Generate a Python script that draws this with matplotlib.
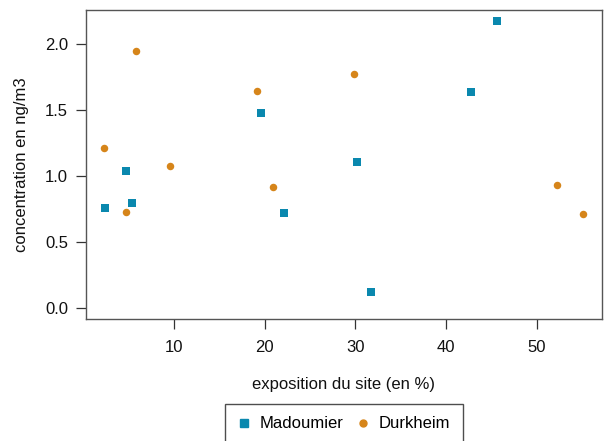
import matplotlib
matplotlib.use("Agg")
import matplotlib.pyplot as plt
from matplotlib.lines import Line2D

plt.rcParams['font.family'] = ['Liberation Sans', 'DejaVu Sans']

mad_x = [2.37, 4.70, 5.33, 19.55, 22.14, 30.2, 31.68, 42.8, 45.64]
mad_y = [0.755, 1.036, 0.796, 1.476, 0.715, 1.107, 0.116, 1.638, 2.176]
dur_x = [2.32, 4.70, 5.76, 9.54, 19.16, 20.90, 29.9, 52.2, 55.06]
dur_y = [1.208, 0.725, 1.946, 1.077, 1.645, 0.912, 1.774, 0.927, 0.713]
series_names = ["Madoumier", "Durkheim"]
xticks = [10, 20, 30, 40, 50]
yticks = [0.0, 0.5, 1.0, 1.5, 2.0]

blue = "#0a88ae"
orange = "#d6851a"

W, H = 604, 441
fig = plt.figure(figsize=(W/100, H/100), dpi=100)
ax = fig.add_axes([86/W, 1-319/H, (602-86)/W, (319-10)/H])

ax.scatter(mad_x, mad_y, marker='s', s=5.8**2, color=blue, linewidths=0, zorder=3)
ax.scatter(dur_x, dur_y, marker='o', s=5.4**2, color=orange, linewidths=0, zorder=3)

ax.set_xlim(0.30, 57.2)
ax.set_ylim(-0.087, 2.258)
ax.set_xticks(xticks)
ax.set_xticklabels([str(t) for t in xticks])
ax.set_yticks(yticks)
ax.set_yticklabels([f"{t:.1f}" for t in yticks])

for s in ax.spines.values():
    s.set_color("#555555")
    s.set_linewidth(1.0)
ax.tick_params(axis='both', direction='out', length=7, width=0.9, color='#333333',
               labelsize=12, labelcolor='#111111')
ax.tick_params(axis='y', pad=6)
ax.tick_params(axis='x', pad=8)

fig.text(344/W, 1-385/H, "exposition du site (en %)", ha='center', va='center',
         fontsize=12, color='#111111')
fig.text(22/W, 1-165/H, "concentration en ng/m3", ha='center', va='center',
         rotation=90, fontsize=12, color='#111111')

handles = [Line2D([], [], marker='s', linestyle='none', color=blue, markersize=5.2),
           Line2D([], [], marker='o', linestyle='none', color=orange, markersize=5.0)]
leg = fig.legend(handles, series_names, loc='upper center', bbox_to_anchor=(344/W, 1-404/H),
                 ncol=2, frameon=True, fancybox=False, fontsize=12,
                 handlelength=0.7, handletextpad=0.6, columnspacing=0.8,
                 borderpad=0.75, borderaxespad=0)
leg.get_frame().set_edgecolor('#222222')
leg.get_frame().set_linewidth(1.0)

fig.savefig("out.png", dpi=100)
